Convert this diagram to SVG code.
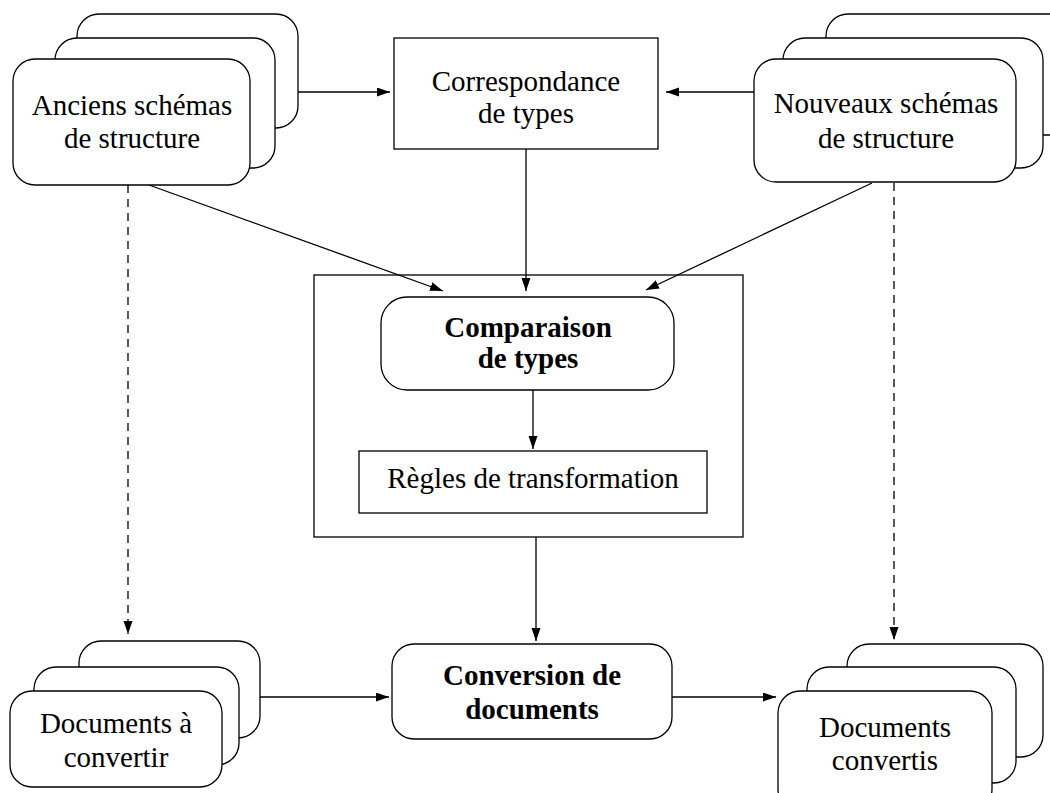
<svg xmlns="http://www.w3.org/2000/svg" width="1050" height="793" viewBox="0 0 1050 793">
<style>
.card{fill:#fff;stroke:#000;stroke-width:1.3}
.box{fill:#fff;stroke:#000;stroke-width:1.3}
.frame{fill:none;stroke:#000;stroke-width:1.3}
.t{font-family:"Liberation Serif","Times New Roman",serif;font-size:29px;fill:#000;text-anchor:middle}
.b{font-weight:bold}
.c{stroke:#000;stroke-width:1.3;fill:none;marker-end:url(#ah)}
.d{stroke-dasharray:8 6}
</style>
<defs>
<marker id="ah" markerUnits="userSpaceOnUse" markerWidth="14" markerHeight="10" refX="13" refY="4.5" orient="auto">
<path d="M0,0 L13,4.5 L0,9 z" fill="#000"/>
</marker>
</defs>
<rect width="1050" height="793" fill="#fff"/>
<g id="outer">
<rect class="frame" x="314" y="275" width="429" height="262"/>
</g>
<g id="connectors">
<line class="c" x1="298" y1="92" x2="390" y2="92"/>
<line class="c" x1="754" y1="92" x2="666" y2="92"/>
<line class="c" x1="526" y1="149" x2="526" y2="291"/>
<line class="c" x1="149" y1="185" x2="443" y2="291"/>
<line class="c" x1="872" y1="183" x2="646" y2="290"/>
<line class="c" x1="533" y1="390" x2="533" y2="449"/>
<line class="c" x1="536" y1="537" x2="536" y2="641"/>
<line class="c" x1="260" y1="697" x2="389" y2="697"/>
<line class="c" x1="672" y1="697" x2="776" y2="697"/>
<line class="c d" x1="128" y1="185" x2="128" y2="634"/>
<line class="c d" x1="894" y1="183" x2="894" y2="640"/>
</g>
<g id="anciens">
<rect class="card" x="77" y="14" width="221" height="114" rx="22"/>
<rect class="card" x="55" y="38" width="220" height="130" rx="22"/>
<rect class="card" x="13" y="59" width="237" height="126" rx="22"/>
<text class="t" x="132" y="115">Anciens schémas</text>
<text class="t" x="132" y="148">de structure</text>
</g>
<g id="correspondance">
<rect class="box" x="394" y="38" width="264" height="111"/>
<text class="t" x="526" y="91">Correspondance</text>
<text class="t" x="526" y="123">de types</text>
</g>
<g id="nouveaux">
<rect class="card" x="826" y="14" width="250" height="121" rx="22"/>
<rect class="card" x="783" y="38" width="260" height="130" rx="22"/>
<rect class="card" x="754" y="59" width="262" height="123" rx="22"/>
<text class="t" x="886" y="113">Nouveaux schémas</text>
<text class="t" x="886" y="148">de structure</text>
</g>
<g id="comparaison">
<rect class="box" x="381" y="297" width="293" height="93" rx="26"/>
<text class="t b" x="528" y="337">Comparaison</text>
<text class="t b" x="528" y="368">de types</text>
</g>
<g id="regles">
<rect class="box" x="359" y="451" width="348" height="62"/>
<text class="t" x="533" y="488">Règles de transformation</text>
</g>
<g id="conversion">
<rect class="box" x="392" y="644" width="280" height="95" rx="22"/>
<text class="t b" x="532" y="685">Conversion de</text>
<text class="t b" x="532" y="719">documents</text>
</g>
<g id="docs-a-convertir">
<rect class="card" x="79" y="641" width="181" height="97" rx="22"/>
<rect class="card" x="34" y="667" width="205" height="98" rx="22"/>
<rect class="card" x="10" y="691" width="212" height="96" rx="22"/>
<text class="t" x="116" y="733">Documents à</text>
<text class="t" x="116" y="767">convertir</text>
</g>
<g id="docs-convertis">
<rect class="card" x="847" y="644" width="196" height="113" rx="22"/>
<rect class="card" x="807" y="667" width="209" height="116" rx="22"/>
<rect class="card" x="778" y="691" width="214" height="120" rx="22"/>
<text class="t" x="885" y="737">Documents</text>
<text class="t" x="885" y="770">convertis</text>
</g>
</svg>
